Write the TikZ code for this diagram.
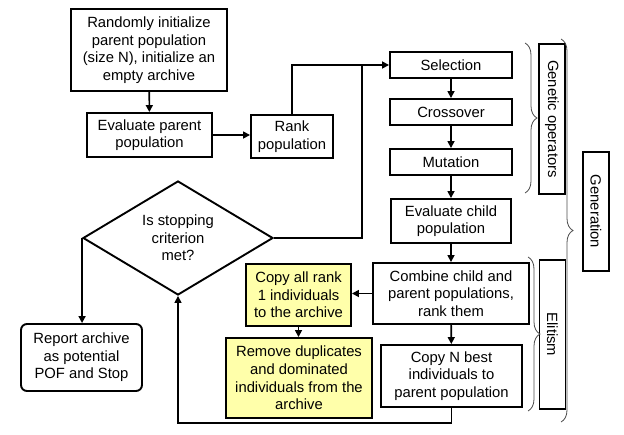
\documentclass[tikz,border=0pt]{standalone}
\usepackage{fontspec}
\setmainfont{Liberation Sans}
\usetikzlibrary{shapes.geometric,arrows.meta,decorations.pathreplacing}
\definecolor{hlyellow}{RGB}{255,255,170}
\begin{document}
\begin{tikzpicture}[x=1pt,y=-1pt,
  every node/.style={font=\fontsize{14.8}{17.6}\selectfont},
  box/.style={draw, line width=1.9pt, inner sep=0pt, align=center},
  ybox/.style={box, fill=hlyellow},
  rbox/.style={box, rounded corners=6pt},
  vbox/.style={draw, line width=1.9pt, inner sep=0pt, rotate=-90, minimum height=26pt},
  conn/.style={line width=1.6pt, -{Triangle[length=7pt,width=7pt]}},
  plain/.style={line width=1.6pt},
  brc/.style={decorate, decoration={brace, amplitude=12pt}, line width=0.8pt, draw=black!70}
]
\useasboundingbox (0,0) rectangle (624,434);

\node[box, minimum width=156pt, minimum height=82pt] (init) at (149,50)
  {Randomly initialize\\parent population\\(size N), initialize an\\empty archive};
\node[box, minimum width=125pt, minimum height=44pt] (evalp) at (149.5,135)
  {Evaluate parent\\population};
\node[box, minimum width=82pt, minimum height=43pt] (rank) at (292,136.5)
  {Rank\\population};
\node[box, minimum width=122pt, minimum height=26pt] (sel) at (451,65) {Selection};
\node[box, minimum width=122pt, minimum height=26pt] (cross) at (451,112) {Crossover};
\node[box, minimum width=122pt, minimum height=26pt] (mut) at (451,162) {Mutation};
\node[box, minimum width=120pt, minimum height=44pt] (evalc) at (451,221)
  {Evaluate child\\population};
\node[box, minimum width=156pt, minimum height=61pt] (comb) at (451,293.5)
  {Combine child and\\parent populations,\\rank them};
\node[box, minimum width=141pt, minimum height=62pt] (copyn) at (451.5,376)
  {Copy N best\\individuals to\\parent population};
\node[ybox, minimum width=105pt, minimum height=62pt] (copyall) at (298.5,295)
  {Copy all rank\\1 individuals\\to the archive};
\node[ybox, minimum width=146pt, minimum height=80pt] (remove) at (299,378)
  {Remove duplicates\\and dominated\\individuals from the\\archive};
\node[rbox, minimum width=121pt, minimum height=67pt] (report) at (81.5,357.5)
  {Report archive\\as potential\\POF and Stop};
\node[draw, line width=1.9pt, diamond, aspect=1.67, inner sep=0pt,
  minimum width=190pt, minimum height=114pt, align=center] (dia) at (178,238)
  {Is stopping\\criterion\\met?};

\node[vbox, minimum width=150pt] (genop) at (552,119) {Genetic operators};
\node[vbox, minimum width=119pt] (gen) at (596,211.5) {Generation};
\node[vbox, minimum width=149pt] (elit) at (552.5,334.5) {Elitism};

\coordinate (j) at (362,65);

\draw[conn] (init) -- (evalp);
\draw[conn] (evalp.east) -- (evalp.east -| rank.west);
\draw[conn] (rank.north) |- (sel.west);
\draw[plain] (dia.east) -| (j);
\draw[conn] (sel) -- (cross);
\draw[conn] (cross) -- (mut);
\draw[conn] (mut) -- (evalc);
\draw[conn] (evalc) -- (comb);
\draw[conn] (comb) -- (copyn);
\draw[conn] (comb.west) -- (comb.west -| copyall.east);
\draw[conn] (copyall) -- (copyall |- remove.north);
\draw[conn] (copyn.south) -- ++(0,15) -| (dia.south);
\draw[conn] (dia.west) -- (dia.west |- report.north);

\draw[brc] (525,43) -- (525,193);
\draw[brc] (561,39) -- (561,422);
\draw[brc] (528,257) -- (528,411);
\end{tikzpicture}
\end{document}
